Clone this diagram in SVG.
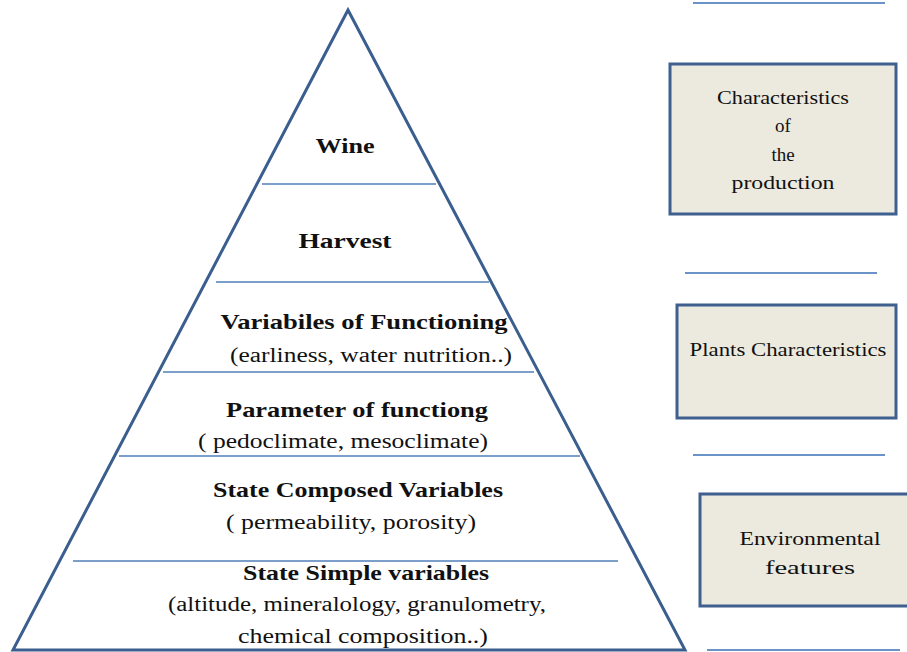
<svg xmlns="http://www.w3.org/2000/svg" width="907" height="652" viewBox="0 0 907 652">
<style>
.tri{fill:none;stroke:#3A5E8E;stroke-width:3;stroke-linejoin:miter}
.sep{stroke:#4F7FB8;stroke-width:1.5}
.rsep{stroke:#6A93C8;stroke-width:2}
.box{fill:#ECE9DF;stroke:#3F5F8E;stroke-width:3}
text{font-family:'Liberation Serif','DejaVu Serif','Times New Roman',serif;fill:#111;text-anchor:middle}
.b{font-weight:bold;font-size:21px}
.n{font-size:20px}
.bt{font-size:19px}
</style>
<rect width="907" height="652" fill="#fff"/>
<g id="pyramid">
<polygon class="tri" points="348,10 13,650 685,650"/>
</g>
<g id="connectors">
<line class="sep" x1="262" y1="184" x2="436" y2="184"/>
<line class="sep" x1="216" y1="282" x2="489" y2="282"/>
<line class="sep" x1="163" y1="372" x2="534" y2="372"/>
<line class="sep" x1="119" y1="456" x2="580" y2="456"/>
<line class="sep" x1="73" y1="561" x2="618" y2="561"/>
<line class="rsep" x1="693" y1="3" x2="885" y2="3"/>
<line class="rsep" x1="685" y1="273" x2="877" y2="273"/>
<line class="rsep" x1="693" y1="455" x2="885" y2="455"/>
<line class="rsep" x1="707" y1="650" x2="900" y2="650"/>
</g>
<g id="level-wine"><text class="b" x="345" y="153" textLength="59" lengthAdjust="spacingAndGlyphs">Wine</text></g>
<g id="level-harvest"><text class="b" x="345" y="248" textLength="93" lengthAdjust="spacingAndGlyphs">Harvest</text></g>
<g id="level-functioning">
<text class="b" x="364" y="329" textLength="287" lengthAdjust="spacingAndGlyphs">Variabiles of Functioning</text>
<text class="n" x="371" y="362" textLength="282" lengthAdjust="spacingAndGlyphs">(earliness, water nutrition..)</text>
</g>
<g id="level-parameter">
<text class="b" x="357" y="417" textLength="262" lengthAdjust="spacingAndGlyphs">Parameter of functiong</text>
<text class="n" x="343" y="448" textLength="290" lengthAdjust="spacingAndGlyphs">( pedoclimate, mesoclimate)</text>
</g>
<g id="level-composed">
<text class="b" x="358" y="497" textLength="290" lengthAdjust="spacingAndGlyphs">State Composed Variables</text>
<text class="n" x="351" y="529" textLength="250" lengthAdjust="spacingAndGlyphs">( permeability, porosity)</text>
</g>
<g id="level-simple">
<text class="b" x="366" y="580" textLength="246" lengthAdjust="spacingAndGlyphs">State Simple variables</text>
<text class="n" x="357" y="611" textLength="378" lengthAdjust="spacingAndGlyphs">(altitude, mineralology, granulometry,</text>
<text class="n" x="363" y="643" textLength="250" lengthAdjust="spacingAndGlyphs">chemical composition..)</text>
</g>
<g id="box-production">
<rect class="box" x="670" y="64" width="226" height="150"/>
<text class="bt" x="783" y="104" textLength="132" lengthAdjust="spacingAndGlyphs">Characteristics</text>
<text class="bt" x="783" y="132">of</text>
<text class="bt" x="783" y="161">the</text>
<text class="bt" x="783" y="189" textLength="103" lengthAdjust="spacingAndGlyphs">production</text>
</g>
<g id="box-plants">
<rect class="box" x="677" y="305" width="219" height="113"/>
<text class="bt" x="788" y="356" textLength="197" lengthAdjust="spacingAndGlyphs">Plants  Characteristics</text>
</g>
<g id="box-environment">
<rect class="box" x="700" y="494" width="212" height="112"/>
<text class="bt" x="810" y="545" textLength="141" lengthAdjust="spacingAndGlyphs">Environmental</text>
<text class="bt" x="810" y="574" textLength="90" lengthAdjust="spacingAndGlyphs">features</text>
</g>
</svg>
